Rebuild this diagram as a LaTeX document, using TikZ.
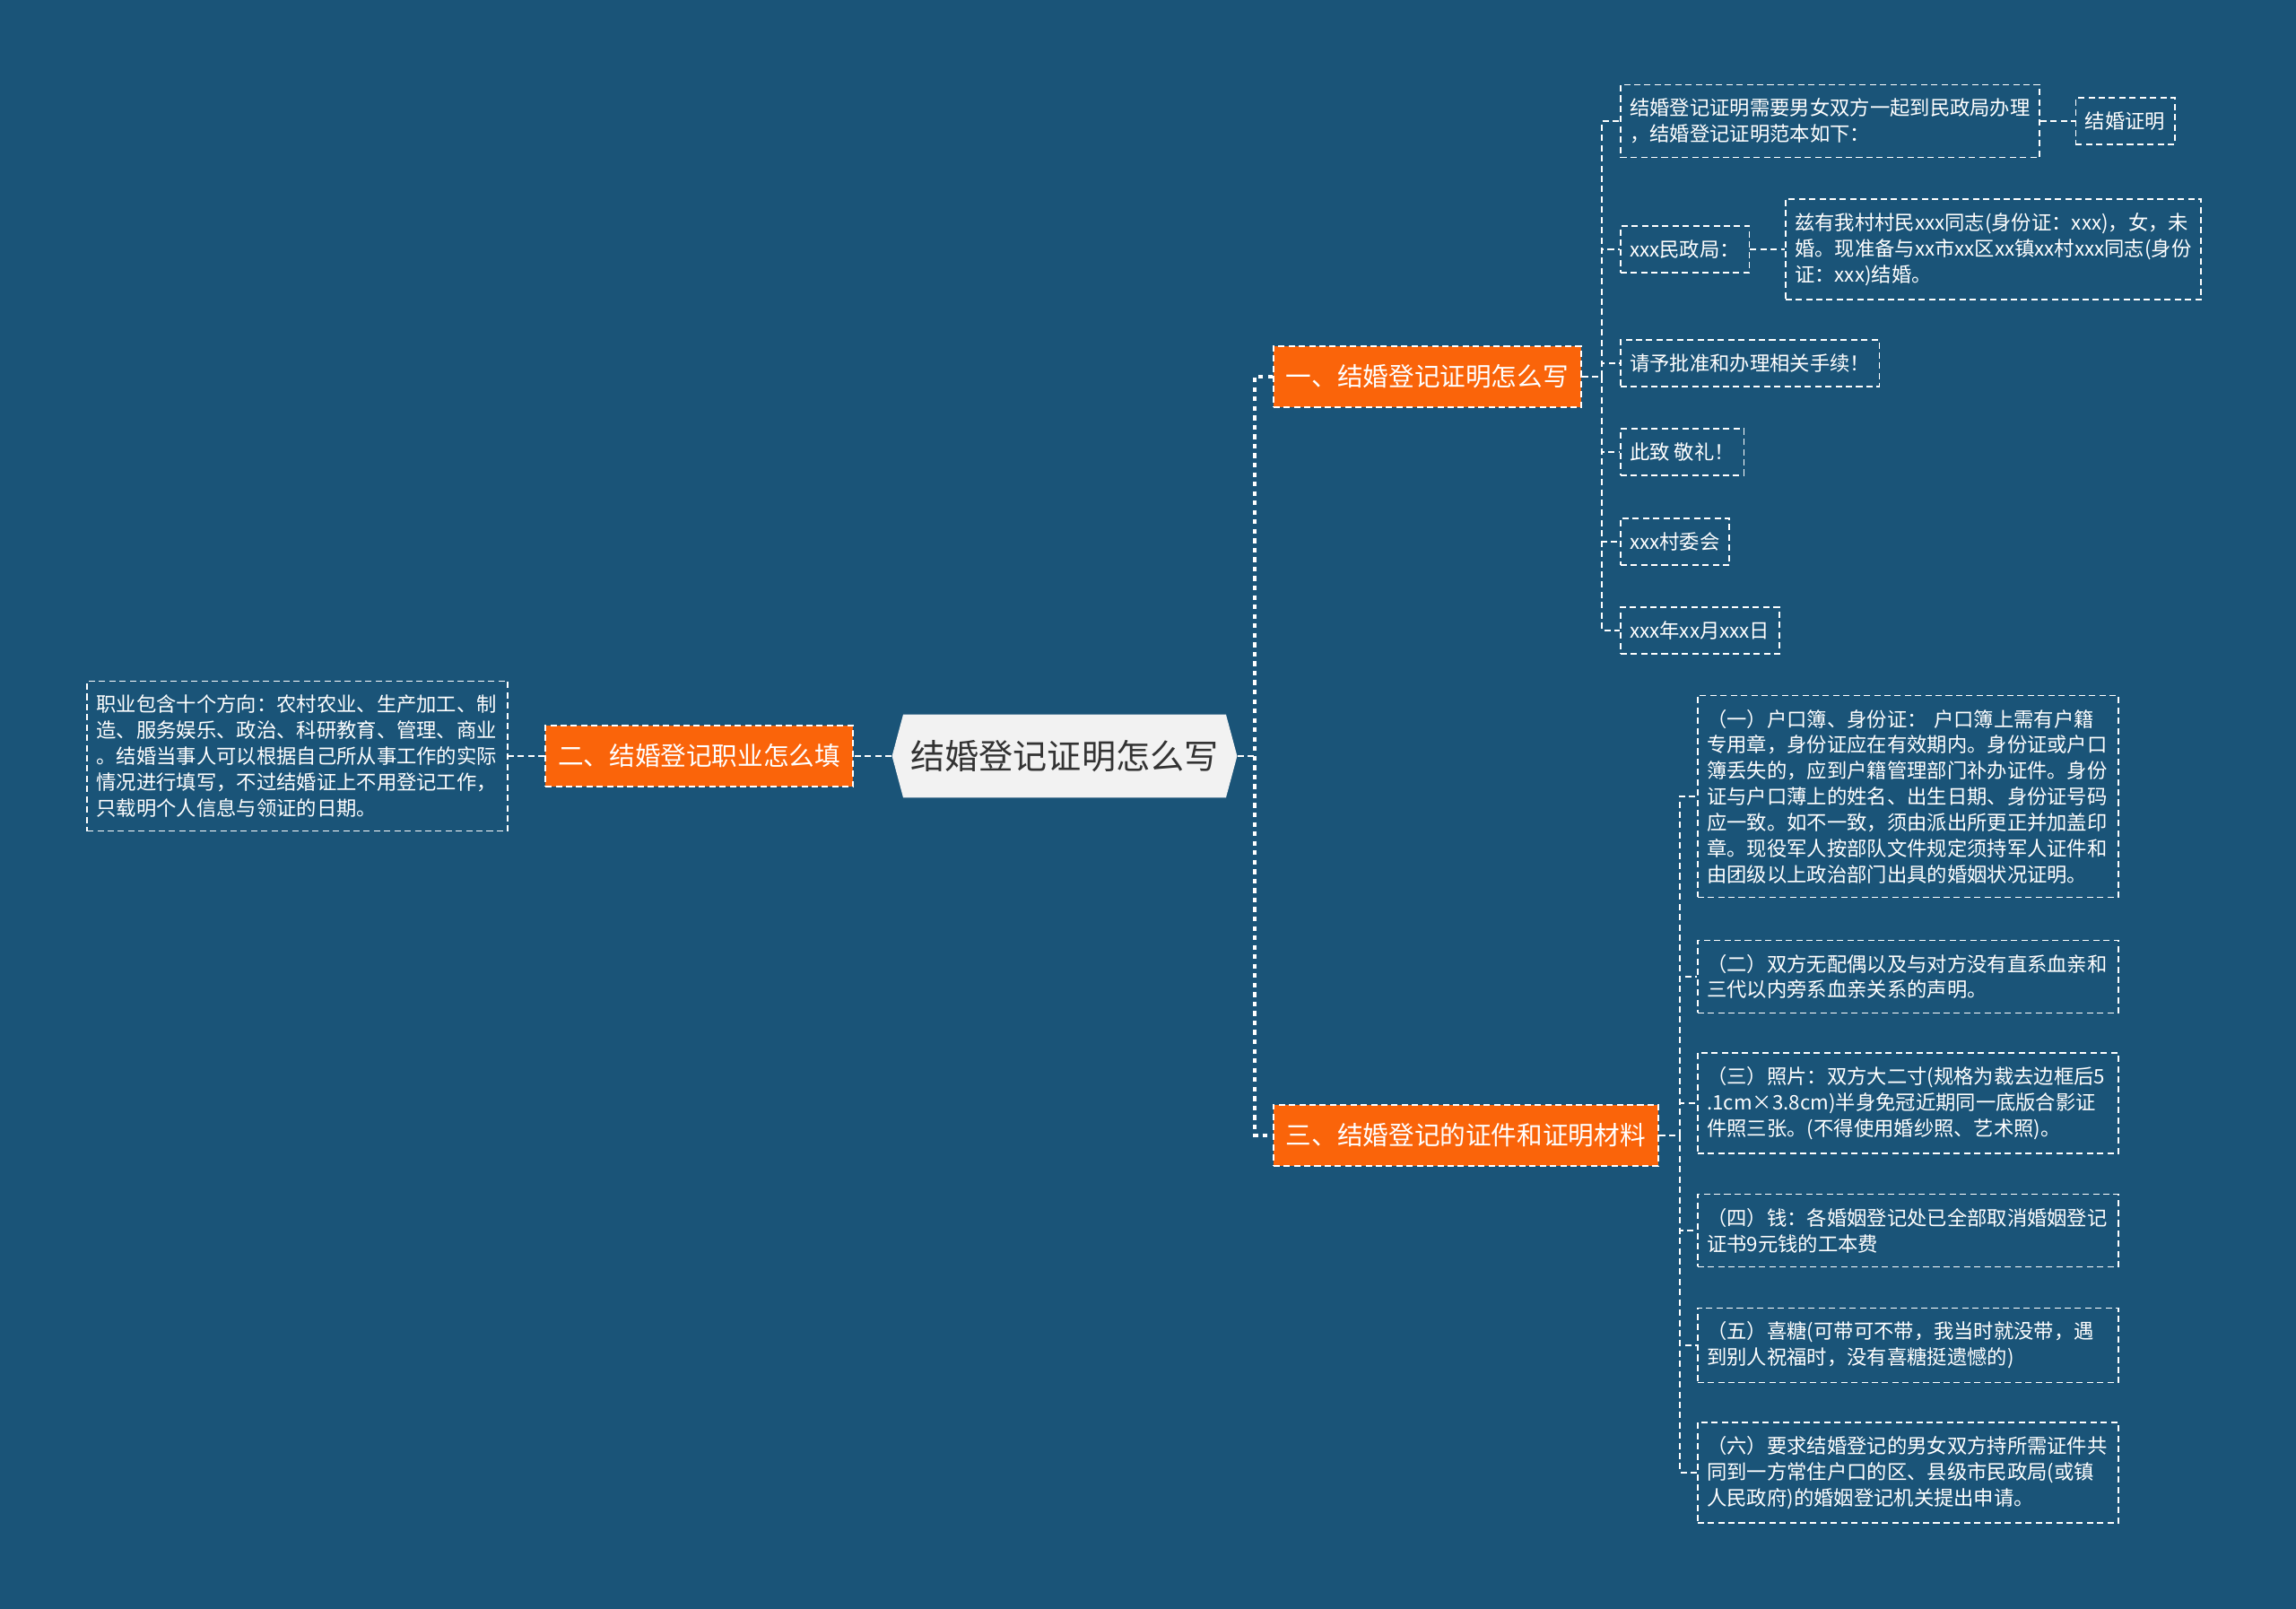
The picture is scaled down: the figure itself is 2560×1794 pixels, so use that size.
\documentclass[tikz,border=0pt]{standalone}
\usepackage{fontspec}
\newfontfamily\cjk{Noto Sans CJK SC}
\usepackage{xcolor}
\usepackage{tikz}
\usetikzlibrary{positioning,shapes.symbols}

\definecolor{bgblue}{RGB}{26,84,120}
\definecolor{branchorange}{RGB}{250,100,10}
\definecolor{rootgray}{RGB}{242,242,242}
\definecolor{roottext}{RGB}{51,51,51}

\begin{document}
\begin{tikzpicture}[x=0.02cm, y=-0.02cm, every node/.style={font=\cjk},
    root/.style={signal, signal to=west and east, signal pointer angle=150, fill=rootgray, text=roottext,
      font=\cjk\fontsize{21.7}{26}\selectfont, minimum height=52.7pt, minimum width=219pt, inner xsep=4pt},
    branch/.style={draw=white, dash pattern=on 4pt off 2.5pt, line width=0.9pt, fill=branchorange, text=white,
      font=\cjk\fontsize{16.3}{20}\selectfont, minimum height=39pt, inner xsep=8pt},
    leaf/.style={draw=white, dash pattern=on 4pt off 2.5pt, line width=0.9pt, text=white, align=left,
      font=\cjk\fontsize{12.7}{16.4}\selectfont, minimum height=29.5pt, inner xsep=6pt, inner ysep=8.8pt},
    wideleaf/.style={leaf, text width=255pt},
    link/.style={draw=white, dash pattern=on 4pt off 2.5pt, line width=0.9pt},
    spine/.style={draw=white, dash pattern=on 3pt off 3pt, line width=1.8pt}]
    \fill[bgblue] (0,0) rectangle (2560,1794);

    % root and main branches
    \node[root] (ctr) at (1187,843) {结婚登记证明怎么写};
    \node[branch, anchor=west] (b1) at (1419,420) {一、结婚登记证明怎么写};
    \node[branch, anchor=east] (b2) at (952,843) {二、结婚登记职业怎么填};
    \node[branch, anchor=west] (b3) at (1419,1266) {三、结婚登记的证件和证明材料};

    % branch two
    \node[wideleaf, anchor=east] (jobs) at (567,843) {职业包含十个方向：农村农业、生产加工、制\\造、服务娱乐、政治、科研教育、管理、商业\\。结婚当事人可以根据自己所从事工作的实际\\情况进行填写，不过结婚证上不用登记工作，\\只载明个人信息与领证的日期。};

    % branch one
    \node[leaf, anchor=west] (intro) at (1806,135) {结婚登记证明需要男女双方一起到民政局办理\\，结婚登记证明范本如下：};
    \node[leaf, right=22pt of intro] (cert) {结婚证明};
    \node[leaf, anchor=west] (bureau) at (1806,278) {xxx民政局：};
    \node[leaf, right=22pt of bureau] (body) {兹有我村村民xxx同志(身份证：xxx)，女，未\\婚。现准备与xx市xx区xx镇xx村xxx同志(身份\\证：xxx)结婚。};
    \node[leaf, anchor=west] (request) at (1806,405) {请予批准和办理相关手续！};
    \node[leaf, anchor=west] (salute) at (1806,504) {此致 敬礼！};
    \node[leaf, anchor=west] (village) at (1806,604) {xxx村委会};
    \node[leaf, anchor=west] (datestamp) at (1806,703) {xxx年xx月xxx日};

    % branch three
    \node[wideleaf, anchor=west] (doc1) at (1892,888) {（一）户口簿、身份证： 户口簿上需有户籍\\专用章，身份证应在有效期内。身份证或户口\\簿丢失的，应到户籍管理部门补办证件。身份\\证与户口薄上的姓名、出生日期、身份证号码\\应一致。如不一致，须由派出所更正并加盖印\\章。现役军人按部队文件规定须持军人证件和\\由团级以上政治部门出具的婚姻状况证明。};
    \node[wideleaf, anchor=west] (doc2) at (1892,1089) {（二）双方无配偶以及与对方没有直系血亲和\\三代以内旁系血亲关系的声明。};
    \node[wideleaf, anchor=west] (doc3) at (1892,1230) {（三）照片：双方大二寸(规格为裁去边框后5\\.1cm×3.8cm)半身免冠近期同一底版合影证\\件照三张。(不得使用婚纱照、艺术照)。};
    \node[wideleaf, anchor=west] (doc4) at (1892,1372) {（四）钱：各婚姻登记处已全部取消婚姻登记\\证书9元钱的工本费};
    \node[wideleaf, anchor=west] (doc5) at (1892,1500) {（五）喜糖(可带可不带，我当时就没带，遇\\到别人祝福时，没有喜糖挺遗憾的)};
    \node[wideleaf, anchor=west] (doc6) at (1892,1642) {（六）要求结婚登记的男女双方持所需证件共\\同到一方常住户口的区、县级市民政局(或镇\\人民政府)的婚姻登记机关提出申请。};

    % connectors
    \coordinate (hub) at (1399,843);
    \coordinate (hub1) at (1786,420);
    \coordinate (hub3) at (1873,1266);
    \draw[link] (ctr.west) -- (b2.east);
    \draw[link] (b2.west) -- (jobs.east);
    \draw[link] (ctr.east) -- (hub);
    \draw[spine] (b1.west) -| (hub) |- (b3.west);
    \draw[link] (b1.east) -- (hub1);
    \foreach \n in {intro,bureau,request,salute,village,datestamp}
      \draw[link] (hub1) |- (\n.west);
    \draw[link] (intro.east) -- (cert.west);
    \draw[link] (bureau.east) -- (body.west);
    \draw[link] (b3.east) -- (hub3);
    \foreach \n in {doc1,doc2,doc3,doc4,doc5,doc6}
      \draw[link] (hub3) |- (\n.west);
\end{tikzpicture}
\end{document}
